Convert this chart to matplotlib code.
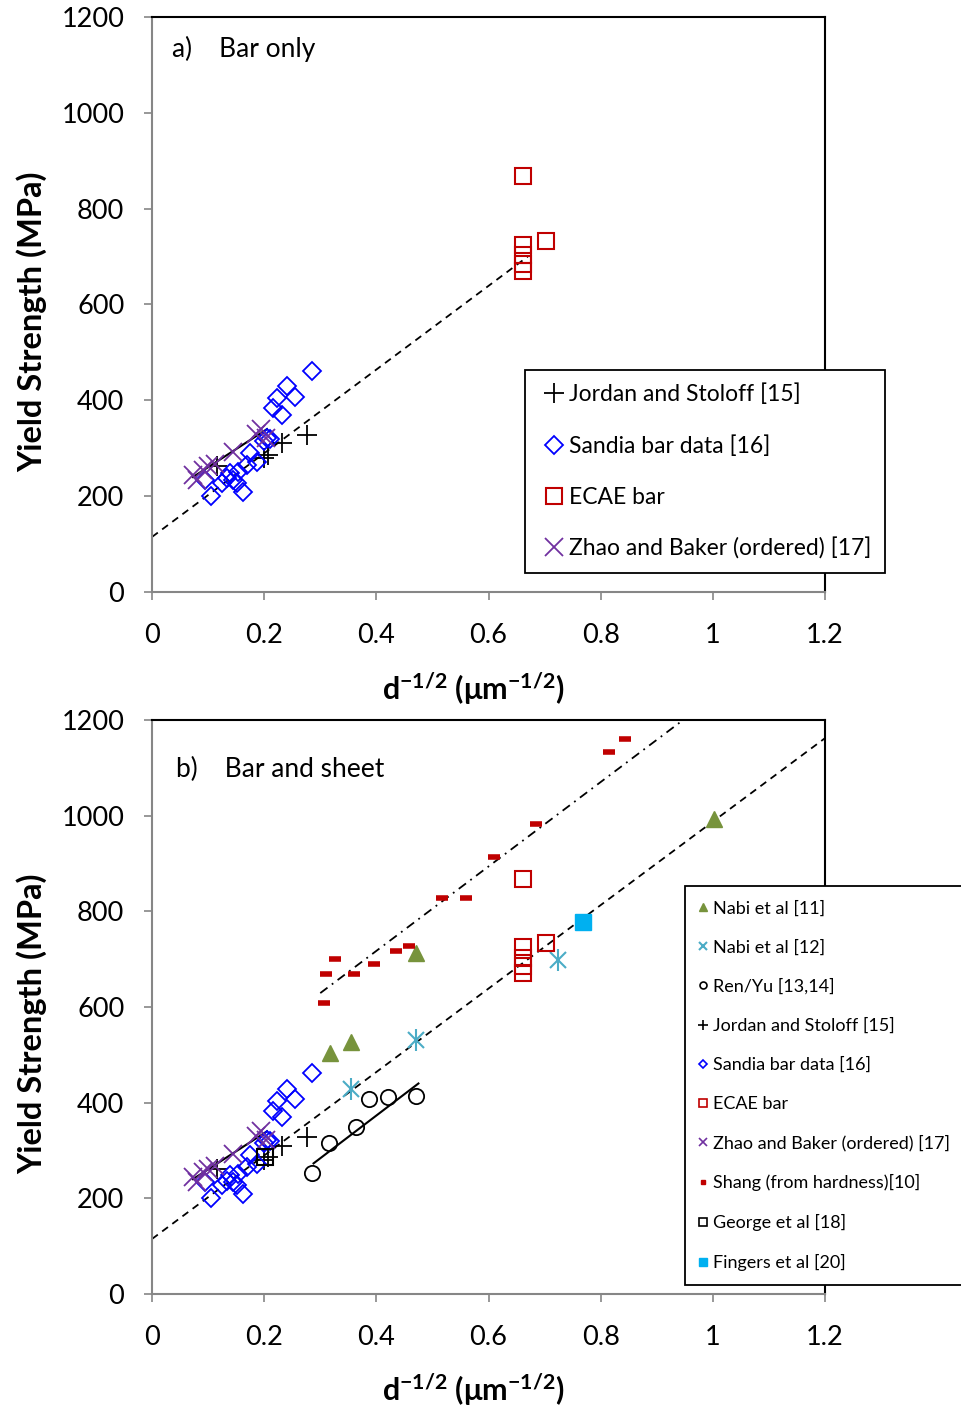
import matplotlib
matplotlib.use("Agg")
import matplotlib.pyplot as plt

plt.rcParams['font.family'] = ['Lato', 'DejaVu Sans']
plt.rcParams['mathtext.fontset'] = 'custom'
plt.rcParams['mathtext.rm'] = 'Lato:bold'
plt.rcParams['mathtext.bf'] = 'Lato:bold'

# Data
jordan_x = [0.115, 0.200, 0.207, 0.231, 0.276]
jordan_y = [262, 280, 286, 310, 328]

sandia_x = [0.286, 0.240, 0.255, 0.222, 0.216, 0.231, 0.205, 0.199, 0.175, 0.187,
            0.169, 0.154, 0.139, 0.145, 0.133, 0.124, 0.151, 0.163, 0.106, 0.094, 0.210]
sandia_y = [462, 429, 408, 404, 383, 370, 321, 315, 290, 272,
            265, 251, 248, 234, 237, 227, 227, 209, 200, 234, 320]

ecae_x = [0.662, 0.662, 0.662, 0.662, 0.662, 0.703]
ecae_y = [868, 725, 703, 685, 670, 733]

zhao_x = [0.073, 0.080, 0.090, 0.100, 0.112, 0.145, 0.185, 0.195, 0.203]
zhao_y = [245, 234, 255, 262, 268, 292, 330, 340, 322]

nabi11_x = [0.317, 0.355, 0.471, 1.002]
nabi11_y = [504, 527, 713, 993]

nabi12_x = [0.355, 0.471, 0.724]
nabi12_y = [429, 531, 698]

renyu_x = [0.286, 0.316, 0.363, 0.387, 0.420, 0.470]
renyu_y = [252, 315, 350, 407, 411, 414]

shang_x = [0.306, 0.310, 0.327, 0.361, 0.395, 0.435, 0.459, 0.517, 0.560, 0.610, 0.685, 0.814, 0.843]
shang_y = [609, 669, 700, 669, 689, 716, 728, 827, 827, 914, 982, 1133, 1160]

george_x = [0.201]
george_y = [287]

fingers_x = [0.769]
fingers_y = [778]

# fitted lines
bar_fit_x_a = [0.0, 0.67]
bar_fit_y_a = [115, 700]
bar_fit_x_b = [0.0, 1.2]
bar_fit_y_b = [115, 1162]
zhao_fit_x = [0.073, 0.205]
zhao_fit_y = [240, 340]
renyu_fit_x = [0.288, 0.475]
renyu_fit_y = [273, 440]
shang_fit_x = [0.300, 0.947]
shang_fit_y = [629, 1200]

x_ticks = [0, 0.2, 0.4, 0.6, 0.8, 1.0, 1.2]
x_tick_labels = ['0', '0.2', '0.4', '0.6', '0.8', '1', '1.2']
y_ticks = [0, 200, 400, 600, 800, 1000, 1200]

RED = '#C00000'
BLUE = '#0000FF'
PURPLE = '#7030A0'
GREEN = '#77933C'
TEAL = '#4BACC6'
CYAN = '#00B0F0'
GREY = '#868686'


def style_axes(ax):
    ax.set_xlim(0, 1.2)
    ax.set_ylim(0, 1200)
    ax.set_xticks(x_ticks)
    ax.set_xticklabels(x_tick_labels)
    ax.set_yticks(y_ticks)
    ax.tick_params(labelsize=19.5, length=6, width=1.2, color=GREY)
    ax.tick_params(axis='x', pad=16)
    ax.tick_params(axis='y', pad=14)
    for s in ['left', 'bottom']:
        ax.spines[s].set_color(GREY)
        ax.spines[s].set_linewidth(1.5)
    for s in ['top', 'right']:
        ax.spines[s].set_color('black')
        ax.spines[s].set_linewidth(1.5)
    ax.set_ylabel('Yield Strength (MPa)', fontsize=23.5, fontweight='bold')
    ax.yaxis.set_label_coords(-0.156, 0.47)
    ax.set_xlabel(r'd$^{-1/2}$ (μm$^{-1/2}$)', fontsize=22, fontweight='bold')
    ax.xaxis.set_label_coords(0.478, -0.135)


fig = plt.figure(figsize=(9.61, 14.12), dpi=100)

# ---- panel a ----
ax1 = fig.add_axes([0.1582, 0.5807, 0.7003, 0.4073])
ax1.plot(bar_fit_x_a, bar_fit_y_a, 'k--', lw=1.3, dashes=(4, 3))
ax1.plot(zhao_fit_x, zhao_fit_y, 'k-', lw=1.5)
h_j, = ax1.plot(jordan_x, jordan_y, '+', color='black', ms=14, mew=1.3, ls='none')
h_s, = ax1.plot(sandia_x, sandia_y, 'D', mfc='none', mec=BLUE, ms=9, mew=1.3, ls='none')
h_e, = ax1.plot(ecae_x, ecae_y, 's', mfc='none', mec=RED, ms=11, mew=1.5, ls='none')
h_z, = ax1.plot(zhao_x, zhao_y, 'x', color=PURPLE, ms=13, mew=1.3, ls='none')
ax1.text(0.03, 0.945, 'a)    Bar only', transform=ax1.transAxes, fontsize=19, va='center')
style_axes(ax1)
fig.legend([h_j, h_s, h_e, h_z],
           ['Jordan and Stoloff [15]', 'Sandia bar data [16]', 'ECAE bar', 'Zhao and Baker (ordered) [17]'],
           loc='upper left', bbox_to_anchor=(0.5463, 0.738), borderaxespad=0, fontsize=16.5,
           labelspacing=1.3, handlelength=1.3, handletextpad=0.0, borderpad=0.6, fancybox=False,
           edgecolor='black', framealpha=1).get_frame().set_linewidth(1.3)

# ---- panel b ----
ax2 = fig.add_axes([0.1582, 0.0836, 0.7003, 0.4065])
ax2.plot(bar_fit_x_b, bar_fit_y_b, 'k--', lw=1.3, dashes=(4, 3))
ax2.plot(zhao_fit_x, zhao_fit_y, 'k-', lw=1.5)
ax2.plot(renyu_fit_x, renyu_fit_y, 'k-', lw=1.5)
ax2.plot(shang_fit_x, shang_fit_y, color='black', lw=1.3, dashes=(5, 3, 1, 3))
ax2.plot(nabi11_x, nabi11_y, '^', color=GREEN, ms=11, ls='none')
ax2.plot(nabi12_x, nabi12_y, 'x', color=TEAL, ms=12, mew=1.5, ls='none')
ax2.plot(nabi12_x, nabi12_y, '|', color=TEAL, ms=16, mew=1.5, ls='none')
ax2.plot(renyu_x, renyu_y, 'o', mfc='none', mec='black', ms=11, mew=1.3, ls='none')
ax2.plot(jordan_x, jordan_y, '+', color='black', ms=14, mew=1.3, ls='none')
ax2.plot(sandia_x, sandia_y, 'D', mfc='none', mec=BLUE, ms=9, mew=1.3, ls='none')
ax2.plot(ecae_x, ecae_y, 's', mfc='none', mec=RED, ms=11, mew=1.5, ls='none')
ax2.plot(zhao_x, zhao_y, 'x', color=PURPLE, ms=13, mew=1.3, ls='none')
ax2.plot(shang_x, shang_y, '_', color=RED, ms=8, mew=4, ls='none')
ax2.plot(george_x, george_y, 's', mfc='none', mec='black', ms=11, mew=1.5, ls='none')
ax2.plot(fingers_x, fingers_y, 's', color=CYAN, ms=11, ls='none')
ax2.text(0.035, 0.913, 'b)    Bar and sheet', transform=ax2.transAxes, fontsize=19, va='center')
style_axes(ax2)

# small legend handles
l_n11, = ax2.plot([], [], '^', color=GREEN, ms=6, ls='none')
l_n12, = ax2.plot([], [], 'x', color=TEAL, ms=6, mew=1.5, ls='none')
l_r, = ax2.plot([], [], 'o', mfc='none', mec='black', ms=5, mew=1.2, ls='none')
l_j, = ax2.plot([], [], '+', color='black', ms=7, mew=1.2, ls='none')
l_s, = ax2.plot([], [], 'D', mfc='none', mec=BLUE, ms=4, mew=1.2, ls='none')
l_e, = ax2.plot([], [], 's', mfc='none', mec=RED, ms=6, mew=1.2, ls='none')
l_z, = ax2.plot([], [], 'x', color=PURPLE, ms=6, mew=1.2, ls='none')
l_sh, = ax2.plot([], [], 's', color=RED, ms=2.5, ls='none')
l_g, = ax2.plot([], [], 's', mfc='none', mec='black', ms=6, mew=1.2, ls='none')
l_f, = ax2.plot([], [], 's', color=CYAN, ms=6, ls='none')
fig.legend([l_n11, l_n12, l_r, l_j, l_s, l_e, l_z, l_sh, l_g, l_f],
           ['Nabi et al [11]', 'Nabi et al [12]', 'Ren/Yu [13,14]', 'Jordan and Stoloff [15]',
            'Sandia bar data [16]', 'ECAE bar', 'Zhao and Baker (ordered) [17]',
            'Shang (from hardness)[10]', 'George et al [18]', 'Fingers et al [20]'],
           loc='upper left', bbox_to_anchor=(0.7128, 0.3725), borderaxespad=0, fontsize=13,
           labelspacing=1.27, handlelength=0.4, handletextpad=0.35, borderpad=0.78, fancybox=False,
           edgecolor='black', framealpha=1).get_frame().set_linewidth(1.3)

fig.savefig('out.png', dpi=100)
